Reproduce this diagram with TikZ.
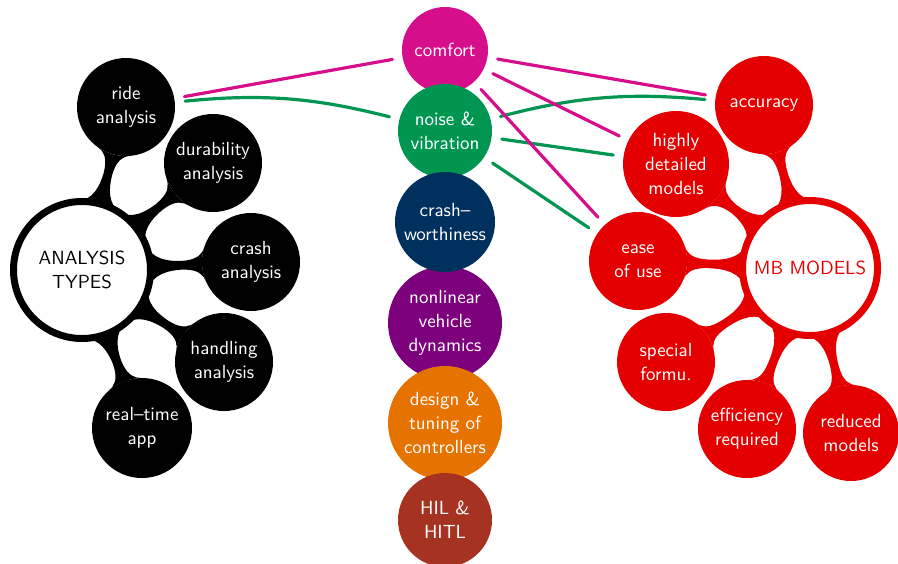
\documentclass[tikz,border=0pt]{standalone}
\usetikzlibrary{mindmap,backgrounds}
\definecolor{cmag}{RGB}{214,14,140}
\definecolor{cgreen}{RGB}{0,150,82}
\definecolor{cnavy}{RGB}{0,48,94}
\definecolor{cpurple}{RGB}{125,0,125}
\definecolor{corange}{RGB}{230,114,0}
\definecolor{cbrown}{RGB}{166,50,34}
\definecolor{cred}{RGB}{228,0,0}
\begin{document}
\begin{tikzpicture}[x=0.5pt,y=-0.5pt,
  txt/.style={font=\fontsize{9.5}{12}\selectfont\sffamily, align=center},
  bubble/.style={txt, circle, fill=#1, text=white, inner sep=-8pt, outer sep=0pt},
  hub/.style={txt, circle, draw=#1, line width=3.5pt, fill=white, text=black,
    inner sep=-8pt, outer sep=0pt},
  bar/.style={circle connection bar switch color=from (#1) to (#1)},
  link/.style={line width=1.6pt, line cap=round, shorten <=5.2pt, shorten >=5.2pt},
]
\useasboundingbox (0,0) rectangle (898,563);

% analysis types cluster
\node[hub=black, minimum size=68.5pt] (at) at (82,270) {ANALYSIS\\TYPES};
\node[bubble=black, minimum size=49pt] (ride) at (126,107) {ride\\analysis};
\node[bubble=black, minimum size=49pt] (dura) at (213,163) {durability\\analysis};
\node[bubble=black, minimum size=49pt] (crash) at (251,262) {crash\\analysis};
\node[bubble=black, minimum size=49pt] (hand) at (224,362) {handling\\analysis};
\node[bubble=black, minimum size=50pt] (real) at (142,428) {real--time\\app};

% application column
\node[bubble=cmag, minimum size=43pt] (comfort) at (445,50) {comfort};
\node[bubble=cgreen, minimum size=47pt] (noise) at (445,131) {noise \&\\vibration};
\node[bubble=cpurple, minimum size=57pt] (nonlin) at (445,323) {nonlinear\\vehicle\\dynamics};
\node[bubble=cnavy, minimum size=50pt] (crashw) at (445,222) {crash--\\worthiness};
\node[bubble=corange, minimum size=57pt] (design) at (445,423) {design \&\\tuning of\\controllers};
\node[bubble=cbrown, minimum size=47pt] (hil) at (445,520) {HIL \&\\HITL};

% multibody models cluster
\node[hub=cred, text=cred, minimum size=67.5pt] (mb) at (810,268) {MB MODELS};
\node[bubble=cred, minimum size=49pt] (acc) at (764,105) {accuracy};
\node[bubble=cred, minimum size=53pt] (high) at (676,164) {highly\\detailed\\models};
\node[bubble=cred, minimum size=49pt] (ease) at (638,261) {ease\\of use};
\node[bubble=cred, minimum size=49pt] (spec) at (666,362) {special\\formu.};
\node[bubble=cred, minimum size=49pt] (eff) at (747,429) {efficiency\\required};
\node[bubble=cred, minimum size=48pt] (red) at (851,433) {reduced\\models};

\begin{scope}[on background layer]
  \foreach \c in {ride,dura,crash,hand,real}
    \path (at) to[bar=black] (\c);
  \foreach \c in {acc,high,ease,spec,eff,red}
    \path (mb) to[bar=cred] (\c);
\end{scope}

% requirement links
\draw[link, cmag] (comfort) -- (ride);
\draw[link, cgreen] (ride) to[bend left=10] (noise);
\draw[link, cmag] (comfort) -- (acc);
\draw[link, cgreen] (noise) to[bend left=10] (acc);
\draw[link, cmag] (comfort) -- (high);
\draw[link, cgreen] (noise) -- (high);
\draw[link, cmag] (comfort) -- (ease);
\draw[link, cgreen] (noise) -- (ease);
\end{tikzpicture}
\end{document}
